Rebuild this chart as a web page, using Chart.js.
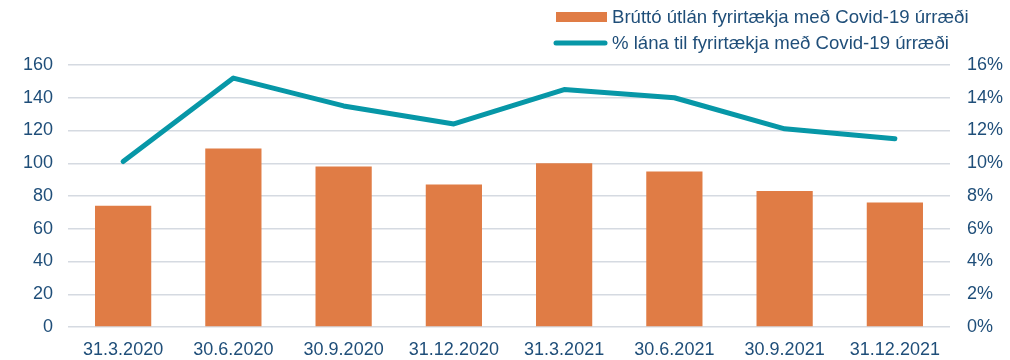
<!DOCTYPE html>
<html>
<head>
<meta charset="utf-8">
<script src="https://cdn.jsdelivr.net/npm/chart.js@4.4.1/dist/chart.umd.min.js"></script>
<style>
    html, body { margin: 0; padding: 0; background: #fff; }
    #wrap { width: 1010px; height: 360px; position: relative; }
</style>
</head>
<body>
<div id="wrap"><canvas id="covidChart"></canvas></div>
<script>
const labels = ['31.3.2020', '30.6.2020', '30.9.2020', '31.12.2020', '31.3.2021', '30.6.2021', '30.9.2021', '31.12.2021'];
const grossLoans = [74, 109, 98, 87, 100, 95, 83, 76];
const loanShare = [10.1, 15.2, 13.5, 12.4, 14.5, 14.0, 12.1, 11.5];
const barLabel = 'Brúttó útlán fyrirtækja með Covid-19 úrræði';
const lineLabel = '% lána til fyrirtækja með Covid-19 úrræði';

const orange = '#E07C45';
const teal = '#0797A7';
const textColor = '#1F4E79';
const font = 'Liberation Sans, Arial, sans-serif';

// legend stacked in two rows at the top right
const stackedLegend = {
    id: 'stackedLegend',
    afterDraw(chart) {
        const c = chart.ctx;
        c.save();
        c.font = '18.6px ' + font;
        c.textBaseline = 'middle';

        c.fillStyle = orange;
        c.fillRect(556, 12, 51, 10);
        c.fillStyle = textColor;
        c.fillText(barLabel, 612, 18);

        c.strokeStyle = teal;
        c.lineWidth = 5;
        c.lineCap = 'round';
        c.beginPath();
        c.moveTo(556, 43);
        c.lineTo(605, 43);
        c.stroke();
        c.fillText(lineLabel, 612, 44);
        c.restore();
    }
};

const ctx = document.getElementById('covidChart').getContext('2d');

const chart = new Chart(ctx, {
    type: 'bar',
    data: {
        labels: labels,
        datasets: [{
            type: 'line',
            label: lineLabel,
            data: loanShare,
            yAxisID: 'y1',
            borderColor: teal,
            borderWidth: 5,
            borderCapStyle: 'round',
            borderJoinStyle: 'round',
            pointRadius: 0,
            tension: 0,
            order: 0
        }, {
            label: barLabel,
            data: grossLoans,
            yAxisID: 'y',
            backgroundColor: orange,
            categoryPercentage: 1,
            barPercentage: 0.51,
            order: 1
        }]
    },
    options: {
        responsive: true,
        maintainAspectRatio: false,
        animation: false,
        layout: { padding: { top: 65, bottom: 0, left: 0, right: 0 } },
        plugins: {
            legend: { display: false },
            tooltip: { enabled: false }
        },
        scales: {
            x: {
                grid: { display: false },
                border: { display: false },
                ticks: {
                    color: textColor,
                    font: { family: font, size: 18 },
                    padding: 4,
                    maxRotation: 0
                },
                afterFit(scale) { scale.height = 33; }
            },
            y: {
                position: 'left',
                min: 0,
                max: 160,
                ticks: {
                    stepSize: 20,
                    color: textColor,
                    font: { family: font, size: 18 },
                    padding: 15
                },
                grid: { color: '#D5DAE1', lineWidth: 1.5, drawTicks: false },
                border: { display: false },
                afterFit(scale) { scale.width = 68; }
            },
            y1: {
                position: 'right',
                min: 0,
                max: 16,
                ticks: {
                    stepSize: 2,
                    color: textColor,
                    font: { family: font, size: 18 },
                    padding: 17,
                    callback: v => v + '%'
                },
                grid: { display: false, drawTicks: false },
                border: { display: false },
                afterFit(scale) { scale.width = 60; }
            }
        }
    },
    plugins: [stackedLegend]
});
</script>
</body>
</html>
